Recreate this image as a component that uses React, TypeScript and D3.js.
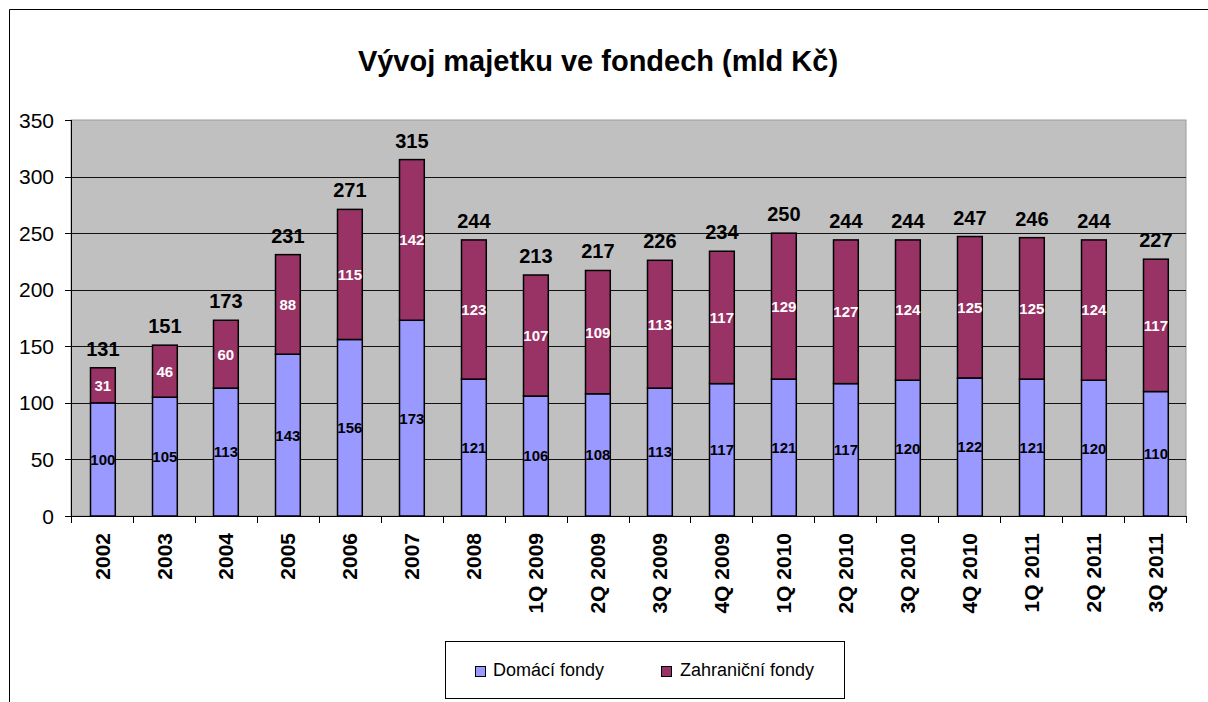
import * as React from 'react';
import { scaleBand, scaleLinear } from 'd3';

const categories = ["2002", "2003", "2004", "2005", "2006", "2007", "2008", "1Q 2009", "2Q 2009", "3Q 2009", "4Q 2009", "1Q 2010", "2Q 2010", "3Q 2010", "4Q 2010", "1Q 2011", "2Q 2011", "3Q 2011"];
const domestic = [100, 105, 113, 143, 156, 173, 121, 106, 108, 113, 117, 121, 117, 120, 122, 121, 120, 110];
const foreign = [31, 46, 60, 88, 115, 142, 123, 107, 109, 113, 117, 129, 127, 124, 125, 125, 124, 117];
const totals = [131, 151, 173, 231, 271, 315, 244, 213, 217, 226, 234, 250, 244, 244, 247, 246, 244, 227];
const yTicks = [0, 50, 100, 150, 200, 250, 300, 350];
const seriesNames = ["Domácí fondy", "Zahraniční fondy"];

const colors = { domestic: "#9999FF", foreign: "#993366", plot: "#C0C0C0" };
const font = "'Liberation Sans', Arial, sans-serif";

const App = () => {
    const plot = { left: 71, right: 1186, top: 120, bottom: 516 };

    const xScale = scaleBand<string>()
        .domain(categories)
        .range([plot.left, plot.right])
        .paddingInner(0.6)
        .paddingOuter(0.3);
    const yScale = scaleLinear().domain([0, 350]).range([plot.bottom, plot.top]);

    const step = xScale.step();
    const bw = xScale.bandwidth();
    const boundaries = categories.map((c) => (xScale(c) || 0) - step * 0.3).concat([plot.right]);

    return (
        <>
            <style>{`html,body{margin:0;padding:0;overflow:hidden;}`}</style>
            <svg width={1208} height={702} style={{ display: 'block', background: 'white' }} fontFamily={font}>
                <path d="M9.5,702 V9.5 H1208" fill="none" stroke="#000" />

                <text x={598} y={71} textAnchor="middle" fontSize={29} fontWeight="bold">Vývoj majetku ve fondech (mld Kč)</text>

                <rect x={plot.left} y={plot.top} width={plot.right - plot.left} height={plot.bottom - plot.top} fill={colors.plot} stroke="#999" />

                {yTicks.filter((t) => t > 0 && t < 350).map((t) => (
                    <line key={t} x1={plot.left} x2={plot.right} y1={Math.round(yScale(t)) + 0.5} y2={Math.round(yScale(t)) + 0.5} stroke="#111" />
                ))}

                {yTicks.map((t) => (
                    <g key={'yt' + t}>
                        <line x1={65} x2={plot.left} y1={Math.round(yScale(t)) + 0.5} y2={Math.round(yScale(t)) + 0.5} stroke="#000" />
                        <text x={54} y={yScale(t)} dy="0.36em" textAnchor="end" fontSize={21}>{t}</text>
                    </g>
                ))}

                {categories.map((c, i) => {
                    const x = Math.round(xScale(c) || 0) + 0.5;
                    const yD = yScale(domestic[i]);
                    const yT = yScale(domestic[i] + foreign[i]);
                    const cx = x + bw / 2;
                    return (
                        <g key={c}>
                            <rect x={x} y={yD} width={bw} height={plot.bottom - yD} fill={colors.domestic} stroke="#000" strokeWidth={1.5} />
                            <rect x={x} y={yT} width={bw} height={yD - yT} fill={colors.foreign} stroke="#000" strokeWidth={1.5} />
                            <text x={cx} y={(yD + plot.bottom) / 2} dy="0.36em" textAnchor="middle" fontSize={15} fontWeight="bold" fill="#000">{domestic[i]}</text>
                            <text x={cx} y={(yT + yD) / 2} dy="0.36em" textAnchor="middle" fontSize={15} fontWeight="bold" fill="#fff">{foreign[i]}</text>
                            <text x={cx} y={yScale(totals[i]) - 12} textAnchor="middle" fontSize={20} fontWeight="bold" fill="#000">{totals[i]}</text>
                            <text transform={`translate(${cx},533) rotate(-90)`} dy="0.36em" textAnchor="end" fontSize={21} fontWeight="bold">{c}</text>
                        </g>
                    );
                })}

                <line x1={plot.left + 0.5} x2={plot.left + 0.5} y1={plot.top} y2={plot.bottom} stroke="#000" />
                <line x1={plot.left} x2={plot.right} y1={plot.bottom + 0.5} y2={plot.bottom + 0.5} stroke="#000" />
                {boundaries.map((b, i) => (
                    <line key={'xt' + i} x1={Math.round(b) + 0.5} x2={Math.round(b) + 0.5} y1={plot.bottom} y2={523} stroke="#000" />
                ))}

                <rect x={445.5} y={641.5} width={399} height={57} fill="white" stroke="#000" />
                <rect x={475.5} y={666.5} width={10} height={10} fill={colors.domestic} stroke="#000" />
                <text x={493} y={676} fontSize={18}>{seriesNames[0]}</text>
                <rect x={661.5} y={666.5} width={10} height={10} fill={colors.foreign} stroke="#000" />
                <text x={680} y={676} fontSize={18}>{seriesNames[1]}</text>
            </svg>
        </>
    );
};

export default App;
